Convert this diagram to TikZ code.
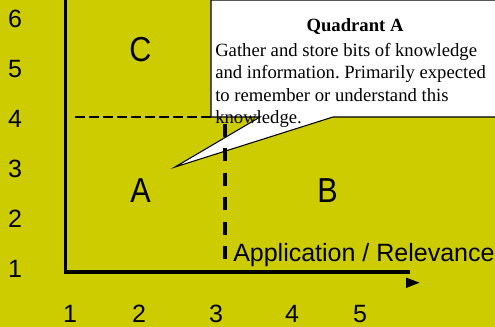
\documentclass[tikz,border=0pt]{standalone}
\usepackage{fontspec}
\setmainfont{Liberation Serif}
\newfontfamily\arialf{Liberation Sans}
\definecolor{bgyellow}{RGB}{204,204,0}
\frenchspacing
\begin{document}
\begin{tikzpicture}[x=0.75pt,y=-0.75pt,
  axis/.style={line width=2.3pt},
  hdash/.style={line width=2pt,dash pattern=on 7.5pt off 3pt},
  vdash/.style={line width=2.4pt,dash pattern=on 9.75pt off 8.6pt},
  ticklbl/.style={font=\arialf\fontsize{18.75}{20}\selectfont,inner sep=0pt},
  quad/.style={font=\arialf\fontsize{26}{28}\selectfont,inner sep=0pt},
  callout/.style={fill=white,draw=black,line width=0.8pt},
  ctext/.style={font=\fontsize{14}{16.8}\selectfont,inner sep=0pt}]
\useasboundingbox (0,0) rectangle (495,327);
\fill[bgyellow] (0,0) rectangle (495,327);
\clip (0,0) rectangle (495,327);
% axes
\coordinate (O) at (65.5,272);
\coordinate (ytop) at (65.5,-2);
\coordinate (xend) at (410,272);
\draw[axis] (ytop) -- (O) -- (xend);
\coordinate (ah1) at (406,277.5);
\coordinate (ah2) at (419.5,282.7);
\coordinate (ah3) at (406,288);
\fill (ah1) -- (ah2) -- (ah3) -- cycle;
% horizontal dashed
\coordinate (hd1) at (75,117);
\coordinate (hd2) at (211,117);
\draw[hdash] (hd1) -- (hd2);
% callout
\coordinate (cb1) at (211,0);
\coordinate (cb2) at (211,117);
\coordinate (cp1) at (260,117);
\coordinate (ctip) at (175,167);
\coordinate (cp2) at (333,117);
\coordinate (cb3) at (505,117);
\coordinate (cb4) at (505,0);
\draw[callout] (cb1) -- (cb2) -- (cp1) -- (ctip) -- (cp2) -- (cb3) -- (cb4) -- cycle;
\node[ctext,anchor=base,font=\fontsize{14}{16.8}\selectfont\bfseries] (title) at (355,32) {Quadrant A};
\node[ctext,anchor=north west,align=left] (body) at (215,42.9) {Gather and store bits of knowledge\\and information. Primarily expected\\to remember or understand this\\knowledge.};
% vertical dashed
\coordinate (vd1) at (225,124);
\coordinate (vd2) at (225,262);
\draw[vdash] (vd1) -- (vd2);
% labels
\node[ticklbl] (y6) at (15,19) {6};
\node[ticklbl] (y5) at (15,69) {5};
\node[ticklbl] (y4) at (15,119) {4};
\node[ticklbl] (y3) at (15,169) {3};
\node[ticklbl] (y2) at (15,219) {2};
\node[ticklbl] (y1) at (15,269) {1};
\node[ticklbl] (x1) at (70,314) {1};
\node[ticklbl] (x2) at (139,314) {2};
\node[ticklbl] (x3) at (216,314) {3};
\node[ticklbl] (x4) at (292,314) {4};
\node[ticklbl] (x5) at (360,314) {5};
\node[quad] (qC) at (140.5,50) {\scalebox{0.88}[1]{C}};
\node[quad] (qA) at (140.5,190.5) {\scalebox{0.88}[1]{A}};
\node[quad] (qB) at (327.5,190.5) {\scalebox{0.88}[1]{B}};
\node[ticklbl,anchor=base west] (applbl) at (233,262) {Application / Relevance};
\end{tikzpicture}
\end{document}
